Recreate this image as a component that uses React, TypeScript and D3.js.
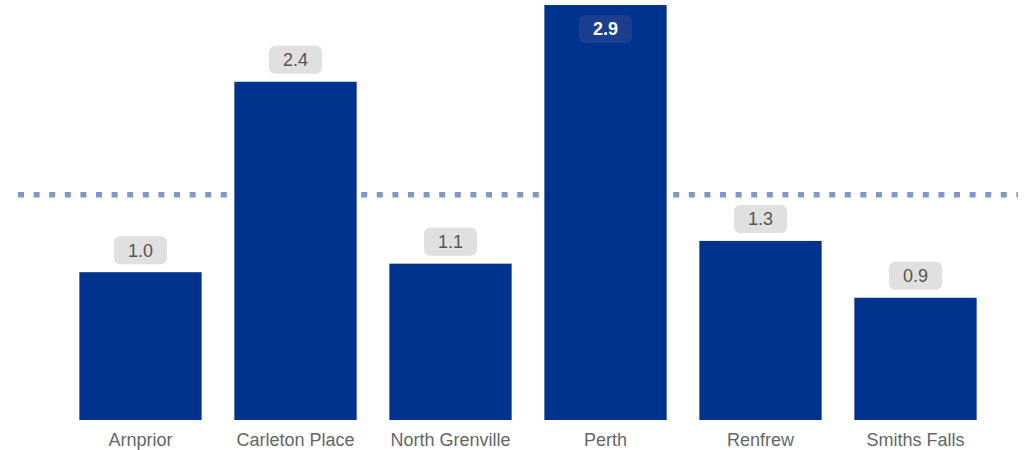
import React from "react";
import * as d3 from "d3";

const categories = ["Arnprior", "Carleton Place", "North Grenville", "Perth", "Renfrew", "Smiths Falls"];
const values = [1.04, 2.38, 1.1, 2.92, 1.26, 0.86];
const referenceValue = 1.585;

const W = 1025;
const H = 450;
const baseY = 420;
const topY = 5;
const barColor = "#00338d";
const font = "'Liberation Sans', Arial, Helvetica, sans-serif";

export default function App() {
  const x = d3.scaleBand<string>().domain(categories).range([63, 993]).paddingInner(0.211).paddingOuter(0.1055);
  const y = d3.scaleLinear().domain([0, d3.max(values) as number]).range([baseY, topY]);
  const boxW = 53;
  const boxH = 28;
  return (
    <svg width={W} height={H} style={{ position: "absolute", left: 0, top: 0, background: "#fff" }}>
      <line
        x1={18}
        x2={1018}
        y1={y(referenceValue)}
        y2={y(referenceValue)}
        stroke="#8098ca"
        strokeWidth={5.5}
        strokeDasharray="6 9.6"
      />
      {categories.map((c, i) => {
        const bx = x(c) as number;
        const bw = x.bandwidth();
        const by = y(values[i]);
        const cx = bx + bw / 2;
        const inside = by - 8 - boxH < 0;
        const boxY = inside ? by + 10 : by - 8 - boxH;
        return (
          <g key={c}>
            <rect x={bx} y={by} width={bw} height={baseY - by} fill={barColor} />
            <rect
              x={cx - boxW / 2}
              y={boxY}
              width={boxW}
              height={boxH}
              rx={6}
              fill={inside ? "#1a3f8f" : "#e0e0e0"}
            />
            <text
              x={cx}
              y={boxY + boxH / 2}
              dy="0.36em"
              textAnchor="middle"
              fontFamily={font}
              fontSize={18}
              fontWeight={inside ? "bold" : "normal"}
              fill={inside ? "#ffffff" : "#555555"}
            >
              {values[i].toFixed(1)}
            </text>
            <text
              x={cx}
              y={440}
              dy="0.36em"
              textAnchor="middle"
              fontFamily={font}
              fontSize={18}
              fill="#666666"
            >
              {c}
            </text>
          </g>
        );
      })}
    </svg>
  );
}
